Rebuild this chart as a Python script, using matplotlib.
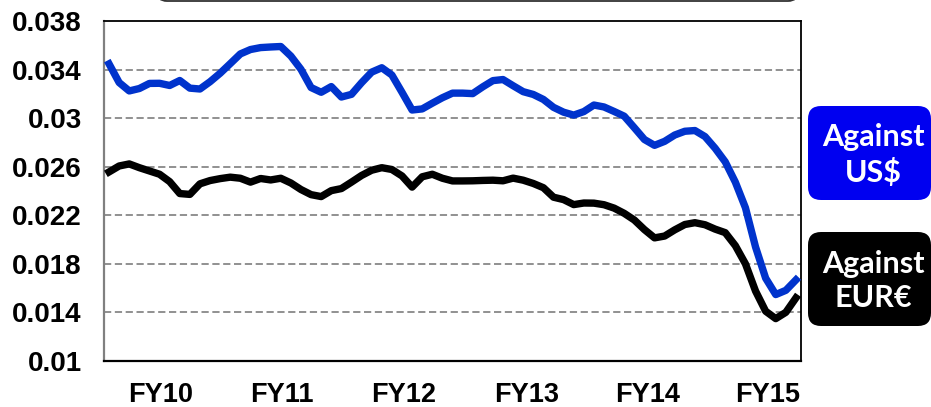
import matplotlib.pyplot as plt
import numpy as np
from matplotlib.patches import FancyBboxPatch
from matplotlib.transforms import IdentityTransform

# monthly rates
usd = [0.03447, 0.03293, 0.03224, 0.03244, 0.03286, 0.03287, 0.03269, 0.0331,
       0.03247, 0.0324, 0.0330, 0.0337, 0.03449, 0.03529, 0.03565, 0.03581,
       0.03586, 0.0359, 0.03511, 0.03402, 0.03252, 0.03213, 0.0326, 0.03174,
       0.03196, 0.03292, 0.03379, 0.03415, 0.03355, 0.03213, 0.03067, 0.03076,
       0.03123, 0.03168, 0.03206, 0.03206, 0.03202, 0.03258, 0.03309, 0.03318,
       0.03267, 0.03218, 0.03195, 0.03154, 0.03089, 0.03049, 0.03025, 0.03054,
       0.03108, 0.03092, 0.03055, 0.03016, 0.02921, 0.02824, 0.02776, 0.02809,
       0.02861, 0.02892, 0.02898, 0.02848, 0.02752, 0.0264, 0.02473, 0.02262,
       0.01939, 0.01682, 0.01547, 0.01582, 0.01668]
eur = [0.02557, 0.02606, 0.02623, 0.02592, 0.02565, 0.02538, 0.02477, 0.02379,
       0.02372, 0.02459, 0.02486, 0.02502, 0.02514, 0.02505, 0.02473, 0.02503,
       0.02491, 0.02505, 0.02466, 0.02412, 0.0237, 0.02354, 0.02403, 0.0242,
       0.02473, 0.02528, 0.02571, 0.02592, 0.02577, 0.02524, 0.02432, 0.02517,
       0.02538, 0.02505, 0.02483, 0.02483, 0.02484, 0.02487, 0.02489, 0.02484,
       0.02506, 0.02489, 0.02462, 0.02427, 0.02349, 0.02329, 0.02288, 0.02301,
       0.0230, 0.02287, 0.02259, 0.02216, 0.02161, 0.02082, 0.02014, 0.02029,
       0.0208, 0.02124, 0.02139, 0.02122, 0.02086, 0.02057, 0.0195, 0.018,
       0.01576, 0.0141, 0.01349, 0.01401, 0.0152]
fy_labels = ["FY10", "FY11", "FY12", "FY13", "FY14", "FY15"]
y_ticks = [0.01, 0.014, 0.018, 0.022, 0.026, 0.03, 0.034, 0.038]

W, H = 931, 407
fig = plt.figure(figsize=(W / 100, H / 100), dpi=100)
ax = fig.add_axes([104 / W, 46 / H, 697 / W, 340 / H])

x = np.arange(len(usd))
ax.plot(x, usd, color="#0033cc", lw=5.3, solid_joinstyle="round", zorder=3)
ax.plot(x, eur, color="black", lw=5.3, solid_joinstyle="round", zorder=3)

ax.set_xlim(-0.5, len(usd) - 0.5)
ax.set_ylim(0.01, 0.038)
ax.set_yticks(y_ticks)
ax.set_yticklabels([f"{v:g}" for v in y_ticks], fontsize=20,
                   fontweight="bold", family="Liberation Sans")
ax.set_xticks([5.1, 17.1, 29.2, 41.3, 53.3, 65.2])
ax.set_xticklabels(fy_labels, fontsize=19.5, fontweight="bold",
                   family="Liberation Sans")
ax.tick_params(axis="both", length=0)
ax.tick_params(axis="y", pad=16)
ax.tick_params(axis="x", pad=15)

for v in y_ticks[1:-1]:
    ax.axhline(v, color="#888888", lw=1.3, ls=(0, (4, 2)), zorder=1)

ax.spines["left"].set_color("#808080")
ax.spines["left"].set_linewidth(1.6)
ax.spines["bottom"].set_linewidth(1.6)
ax.spines["top"].set_linewidth(1.3)
ax.spines["right"].set_linewidth(1.3)


def px_box(x0, y0, x1, y1, face, edge, lw, r):
    # pixel coords measured from the top-left corner of the image
    p = FancyBboxPatch((x0, H - y1), x1 - x0, y1 - y0,
                       boxstyle=f"round,pad=0,rounding_size={r}",
                       facecolor=face, edgecolor=edge, linewidth=lw,
                       transform=IdentityTransform())
    fig.add_artist(p)


# top box (mostly cut off)
px_box(157, -40, 798, 1, "white", "#333333", 1.3, 10)

# legend boxes
px_box(808, 106, 931, 200, "#0000f0", "#0000f0", 0, 13)
px_box(808, 232, 931, 326, "black", "black", 0, 13)

fig.text(873 / W, 1 - 155 / H, "Against\nUS$", color="white", fontsize=22,
         fontweight="bold", family="Lato", ha="center", va="center",
         linespacing=1.3)
fig.text(873 / W, 1 - 281 / H, "Against\nEUR€", color="white", fontsize=22,
         fontweight="bold", family="Lato", ha="center", va="center",
         linespacing=1.3)

fig.savefig("out.png", dpi=100)
